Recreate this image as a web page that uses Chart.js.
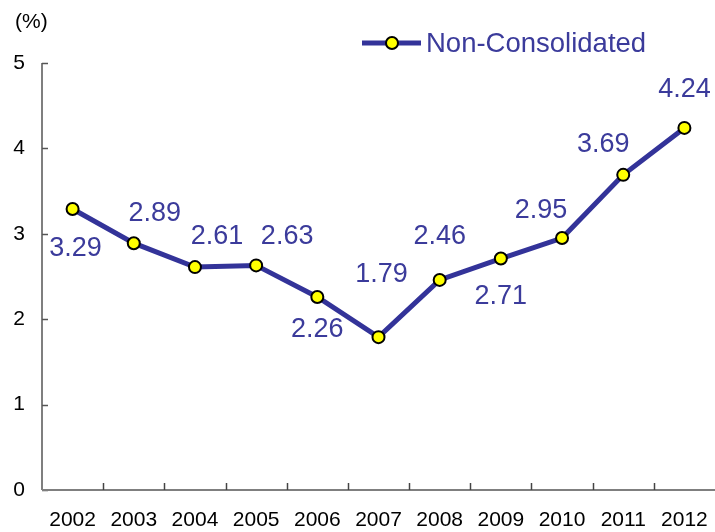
<!DOCTYPE html>
<html>
<head>
<meta charset="utf-8">
<title>Non-Consolidated</title>
<script src="https://cdn.jsdelivr.net/npm/chart.js@4.4.0/dist/chart.umd.min.js"></script>
<style>
    html, body { margin: 0; padding: 0; background: #ffffff; }
    #wrap { width: 715px; height: 532px; position: relative; }
</style>
</head>
<body>
<div id="wrap"><canvas id="ratioChart" width="715" height="532"></canvas></div>
<script>
// dados do gráfico
const years = ['2002', '2003', '2004', '2005', '2006', '2007', '2008', '2009', '2010', '2011', '2012'];
const nonConsolidated = [3.29, 2.89, 2.61, 2.63, 2.26, 1.79, 2.46, 2.71, 2.95, 3.69, 4.24];
const yTicks = [0, 1, 2, 3, 4, 5];
const seriesName = 'Non-Consolidated';
const unitLabel = '(%)';

// deslocamento dos rótulos de valor (em px, relativo ao ponto)
const labelOffsets = [
    [3, 40], [21, -30], [22, -31], [31, -29], [0, 33], [3, -63],
    [0, -43], [0, 38], [-21, -28], [-20, -30], [0, -38]
];

const LINE_COLOR = '#333399';
const LABEL_COLOR = '#3b3b9b';
const FONT = '"Liberation Sans", Arial, sans-serif';

// Plugin para eixos, rótulos e legenda
const decorPlugin = {
    id: 'decor',
    beforeDatasetsDraw(chart) {
        const ctx = chart.ctx;
        const x = chart.scales.x;
        const y = chart.scales.y;
        const area = chart.chartArea;
        ctx.save();
        // eixo Y
        ctx.strokeStyle = '#555555';
        ctx.lineWidth = 1.5;
        ctx.beginPath();
        ctx.moveTo(area.left, y.getPixelForValue(5));
        ctx.lineTo(area.left, y.getPixelForValue(0));
        ctx.stroke();
        yTicks.forEach(v => {
            const py = Math.round(y.getPixelForValue(v)) + 0.5;
            ctx.beginPath();
            ctx.moveTo(area.left, py);
            ctx.lineTo(area.left + 6, py);
            ctx.stroke();
        });
        // eixo X
        ctx.strokeStyle = '#7f7f7f';
        ctx.lineWidth = 2;
        const base = y.getPixelForValue(0);
        ctx.beginPath();
        ctx.moveTo(area.left, base);
        ctx.lineTo(chart.width, base);
        ctx.stroke();
        ctx.strokeStyle = '#444444';
        ctx.lineWidth = 1.5;
        const step = x.getPixelForValue(1) - x.getPixelForValue(0);
        for (let i = 0; i < years.length - 1; i++) {
            const px = Math.round(x.getPixelForValue(i) + step / 2) + 0.5;
            ctx.beginPath();
            ctx.moveTo(px, base);
            ctx.lineTo(px, base - 7);
            ctx.stroke();
        }
        // unidade
        ctx.fillStyle = '#000000';
        ctx.font = '21px ' + FONT;
        ctx.textAlign = 'left';
        ctx.textBaseline = 'middle';
        ctx.fillText(unitLabel, 15, 22);
        ctx.restore();
    },
    afterDatasetsDraw(chart) {
        const ctx = chart.ctx;
        const meta = chart.getDatasetMeta(0);
        ctx.save();
        ctx.fillStyle = LABEL_COLOR;
        ctx.font = '27px ' + FONT;
        ctx.textAlign = 'center';
        ctx.textBaseline = 'middle';
        meta.data.forEach((pt, i) => {
            const off = labelOffsets[i];
            ctx.fillText(nonConsolidated[i].toFixed(2), pt.x + off[0], pt.y + off[1]);
        });

        // legenda
        const ly = 43;
        ctx.strokeStyle = LINE_COLOR;
        ctx.lineWidth = 5;
        ctx.beginPath();
        ctx.moveTo(362, ly);
        ctx.lineTo(421, ly);
        ctx.stroke();
        ctx.beginPath();
        ctx.arc(392, ly, 6, 0, Math.PI * 2);
        ctx.fillStyle = '#ffff00';
        ctx.fill();
        ctx.lineWidth = 2;
        ctx.strokeStyle = '#000000';
        ctx.stroke();
        ctx.fillStyle = LABEL_COLOR;
        ctx.textAlign = 'left';
        ctx.font = '27.5px ' + FONT;
        ctx.fillText(seriesName, 426, ly + 1);
        ctx.restore();
    }
};

function createChart() {
    const ctx = document.getElementById('ratioChart').getContext('2d');

    const chart = new Chart(ctx, {
        type: 'line',
        data: {
            labels: years,
            datasets: [{
                label: seriesName,
                data: nonConsolidated,
                borderColor: LINE_COLOR,
                borderWidth: 5,
                backgroundColor: '#ffff00',
                pointBackgroundColor: '#ffff00',
                pointBorderColor: '#000000',
                pointBorderWidth: 2,
                pointRadius: 6,
                pointHoverRadius: 6,
                tension: 0,
                fill: false
            }]
        },
        options: {
            responsive: false,
            animation: false,
            devicePixelRatio: 1,
            layout: {
                autoPadding: false,
                padding: { top: 63, right: 0, left: 0, bottom: 0 }
            },
            plugins: {
                legend: { display: false },
                tooltip: { enabled: false }
            },
            scales: {
                x: {
                    offset: true,
                    grid: { display: false, drawTicks: false },
                    border: { display: false },
                    ticks: {
                        color: '#000000',
                        padding: 18,
                        maxRotation: 0,
                        autoSkip: false,
                        font: { family: FONT, size: 21 }
                    },
                    afterFit(scale) {
                        scale.height = 42;
                        scale.paddingLeft = 0;
                        scale.paddingRight = 0;
                    }
                },
                y: {
                    min: 0,
                    max: 5,
                    grid: { display: false, drawTicks: false },
                    border: { display: false },
                    afterBuildTicks(scale) {
                        scale.ticks = yTicks.map(v => ({ value: v }));
                    },
                    ticks: {
                        color: '#000000',
                        padding: 17,
                        font: { family: FONT, size: 21 }
                    },
                    afterFit(scale) { scale.width = 42; }
                }
            }
        },
        plugins: [decorPlugin]
    });
}

document.addEventListener('DOMContentLoaded', createChart);
</script>
</body>
</html>
